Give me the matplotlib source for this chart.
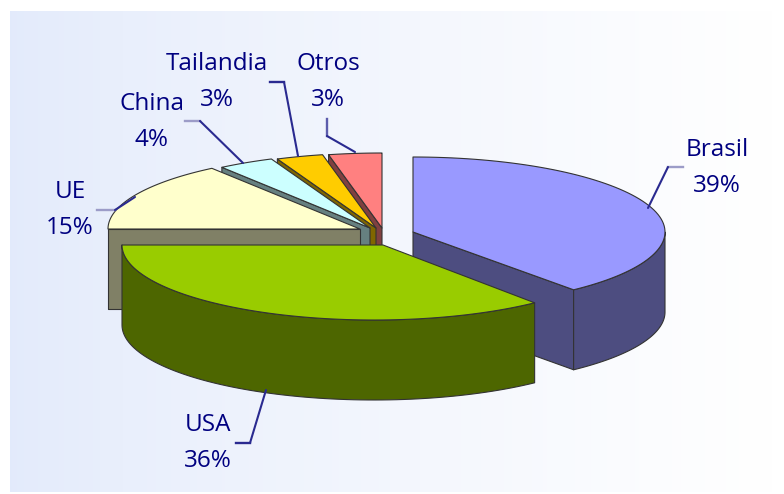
import numpy as np
import matplotlib
matplotlib.use('Agg')
from matplotlib import pyplot as plt
from matplotlib.patches import Polygon

names = ['Brasil', 'USA', 'UE', 'China', 'Tailandia', 'Otros']
values = [39, 36, 15, 3.6, 3, 3.4]
top_colors = ['#9999FF', '#99CC00', '#FFFFCC', '#CCFFFF', '#FFCC00', '#FF8080']
side_colors = ['#4D4D80', '#4D6600', '#808066', '#668080', '#806600', '#804040']

# where each exploded slice has its tip, in pixels
tips = [(413, 232), (374, 245), (360, 229), (370, 228), (376, 228), (382, 228)]
corners = [(413, 232), (383, 245), (360, 229), (370, 228), (376, 228), (382, 228)]
label_pos = [(717, 168), (208, 443), (70, 210), (152, 122), (217, 82), (328, 82)]
leaders = [[(648, 208), (668, 167), (683, 167)],
           [(266, 390), (250, 443), (236, 443)],
           [(135, 197), (115, 210), (97, 210)],
           [(243, 163), (200, 121), (185, 121)],
           [(298, 156), (284, 82), (270, 82)],
           [(355, 152), (327, 136), (327, 119)]]
stub_colors = ['#9C9CC8', '#2A2A90', '#9C9CC8', '#9C9CC8', '#2A2A90', '#5C5CAC']

rx, ry, depth = 252, 75, 80
edge = '#333333'

fig = plt.figure(figsize=(7.84, 4.94), dpi=100)
ax = fig.add_axes([0, 0, 1, 1])
ax.axis('off')

grad = np.linspace(0, 1, 256).reshape(1, -1, 1) ** 0.8
left = np.array([0.89, 0.92, 0.985]).reshape(1, 1, 3)
right = np.array([1.0, 1.0, 1.0]).reshape(1, 1, 3)
ax.imshow(left + (right - left) * grad, extent=(10, 774, 492, 12), aspect='auto', zorder=0)
ax.set_xlim(0, 784)
ax.set_ylim(494, 0)


def point(tip, a):
    t = np.radians(a)
    return tip[0] + rx * np.sin(t), tip[1] - ry * np.cos(t)


def arc(tip, a0, a1):
    t = np.radians(np.linspace(a0, a1, 80))
    return np.column_stack([tip[0] + rx * np.sin(t), tip[1] - ry * np.cos(t)])


def draw_slice(i, a0, a1, z):
    tip = tips[i]
    top = np.vstack([[corners[i]], arc(tip, a0, a1)])
    drop = np.array([0, depth])
    kw = dict(edgecolor=edge, linewidth=0.8, joinstyle='round')
    # walls first, the flat top goes over them
    if i == 0:
        p = point(tip, a1)
        ax.add_patch(Polygon([tip, p, np.add(p, drop), np.add(tip, drop)],
                             facecolor=side_colors[i], zorder=z, **kw))
    elif a0 >= 270:
        p = point(tip, a0)
        ax.add_patch(Polygon([tip, p, np.add(p, drop), np.add(tip, drop)],
                             facecolor=side_colors[i], zorder=z, **kw))
    lo, hi = max(a0, 90), min(a1, 270)
    if lo < hi:
        a = arc(tip, lo, hi)
        ax.add_patch(Polygon(np.vstack([a, (a + drop)[::-1]]),
                             facecolor=side_colors[i], zorder=z, **kw))
    ax.add_patch(Polygon(top, facecolor=top_colors[i], zorder=z + 0.5, **kw))


angles = np.concatenate([[0], np.cumsum(values)]) * 3.6
order = [5, 4, 3, 2, 0, 1]
for z, i in enumerate(order):
    draw_slice(i, angles[i], angles[i + 1], z + 1)

total = sum(values)
for name, v, pos, line, stub in zip(names, values, label_pos, leaders, stub_colors):
    xs = [p[0] for p in line]
    ys = [p[1] for p in line]
    ax.plot(xs[1:], ys[1:], color=stub, lw=1.7, zorder=20)
    ax.plot(xs[:2], ys[:2], color='#2A2A90', lw=1.5, zorder=20, solid_capstyle='round')
    ax.text(pos[0], pos[1], '%s\n%d%%' % (name, round(100 * v / total)), color='#000080',
            family='Open Sans', fontsize=17.5, ha='center', va='center', linespacing=1.68, zorder=21)

fig.savefig('out.png', dpi=100, facecolor='white')
